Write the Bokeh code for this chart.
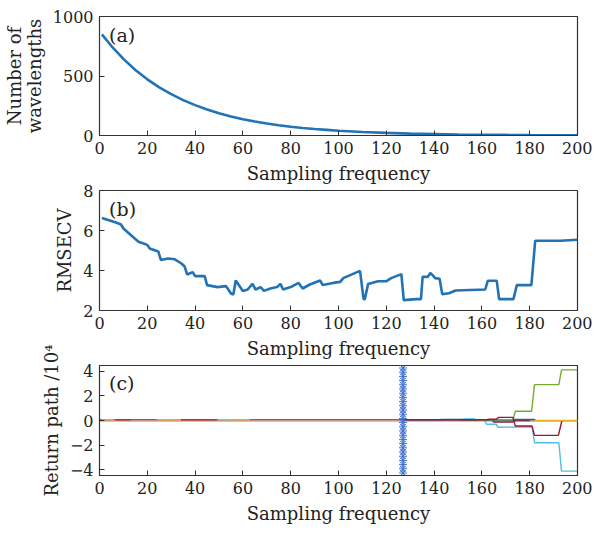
from bokeh.plotting import figure
from bokeh.layouts import column
from bokeh.models import FixedTicker, Label
from bokeh.embed import file_html
from bokeh.resources import INLINE

FONT = "DejaVu Serif"
INK = "#333333"
BLUE = "#2372B4"

x_ticks = [0, 20, 40, 60, 80, 100, 120, 140, 160, 180, 200]

# (a) number of retained wavelengths
freq_a = [1, 5, 10, 15, 20, 25, 30, 35, 40, 45, 50, 55, 60, 65, 70, 75, 80, 85, 90,
          95, 100, 110, 120, 130, 140, 150, 160, 170, 180, 190, 200]
n_wave = [850, 752, 644, 551, 472, 404, 347, 297, 255, 218, 187, 160, 137, 118, 101,
          86, 74, 63, 54, 47, 40, 29, 22, 16, 12, 8, 6, 5, 3, 2, 2]

# (b) RMSECV
freq_b = [1, 6.6, 9, 10, 16.3, 20, 21, 24.6, 25.7, 28.7, 31.5, 34.3, 35.6, 36.7, 39, 40,
          44, 45, 49.4, 52.9, 55, 56, 57, 60, 62, 64, 65.3, 67.4, 68.8, 71.5, 74.3, 75.7,
          76.8, 80, 83.3, 85, 88, 92.3, 93.4, 97.8, 100.7, 102, 109, 110.5, 111, 112.4,
          116.5, 120, 122, 125.5, 126.3, 127.3, 132.5, 134.5, 135.2, 137.3, 138.4, 139.3,
          140.4, 142.3, 143.4, 146.2, 149, 161.4, 162.5, 166.2, 167.2, 173.2, 174.6, 180.7,
          182.3, 193, 200]
rmsecv = [6.62, 6.41, 6.3, 6.1, 5.44, 5.28, 5.1, 4.95, 4.52, 4.6, 4.56, 4.35, 4.2, 3.8,
          3.92, 3.72, 3.72, 3.27, 3.17, 3.22, 2.85, 2.8, 3.5, 2.98, 3.05, 3.33, 3.05, 3.17,
          2.98, 3.1, 3.17, 3.33, 3.05, 3.17, 3.38, 3.1, 3.3, 3.5, 3.27, 3.38, 3.43, 3.62,
          3.98, 2.57, 2.57, 3.33, 3.46, 3.46, 3.62, 3.78, 3.82, 2.52, 2.57, 2.57, 3.68,
          3.68, 3.87, 3.78, 3.62, 3.59, 2.82, 2.86, 3.0, 3.05, 3.49, 3.49, 2.57, 2.57,
          3.27, 3.27, 5.49, 5.49, 5.54]

# (c) regression coefficient paths (x 10^4)
path_yellow_x = [0, 200]
path_yellow_y = [-0.05, -0.05]
path_purple_x = [0, 182]
path_purple_y = [0.06, 0.06]
path_red_x = [127, 162, 163, 166, 167, 173, 174, 181, 182, 192, 193.5]
path_red_y = [0.06, 0.06, 0.1, 0.1, 0.25, 0.25, -0.45, -0.45, -1.2, -1.2, 0]
path_red2_x = [150, 164, 165, 173, 174, 180]
path_red2_y = [0.06, 0.06, -0.12, -0.12, 0, 0]
path_blue_x = [127, 142.6, 143, 153, 154, 173, 173.6, 182, 182.5]
path_blue_y = [0.06, 0.06, 0.08, 0.08, 0.04, 0.04, 0.08, 0.08, 0]
path_cyan_x = [152, 152.5, 157, 157.5, 161, 162, 166, 166.7, 181, 182, 192.2, 193.3, 200]
path_cyan_y = [0.06, 0.12, 0.12, 0.06, 0.06, -0.3, -0.3, -0.55, -0.5, -1.8, -1.8, -4.1, -4.1]
path_green_x = [150, 173, 174, 180.8, 182, 192.2, 193.3, 200]
path_green_y = [0.06, 0.06, 0.75, 0.75, 2.9, 2.9, 4.1, 4.1]
seg_red_x = [[7, 13], [34, 49]]
seg_yellow_x = [[1, 6], [24, 34], [56, 63]]
seg_green_x = [[49.5, 56]]
best_freq = 127
star_y = [-4.25, -3.91, -3.57, -3.23, -2.89, -2.55, -2.21, -1.87, -1.53, -1.19, -0.85,
          -0.51, -0.17, 0.17, 0.51, 0.85, 1.19, 1.53, 1.87, 2.21, 2.55, 2.89, 3.23, 3.57,
          3.91, 4.25]


def make_fig(height, yrange, yticks, ylabel, top, bottom, overrides=None, margin=None):
    kw = {}
    if margin is not None:
        kw["margin"] = margin
    p = figure(width=592, height=height, x_range=(0, 200), y_range=yrange,
               output_backend="svg", toolbar_location=None,
               min_border_left=92, min_border_right=15,
               min_border_top=top, min_border_bottom=bottom, **kw)
    p.grid.visible = False
    p.outline_line_color = INK
    p.outline_line_width = 1.2
    p.outline_line_alpha = 1.0
    p.background_fill_color = "white"
    p.border_fill_color = None
    p.xaxis.ticker = FixedTicker(ticks=x_ticks)
    p.yaxis.ticker = FixedTicker(ticks=yticks)
    if overrides:
        p.yaxis.major_label_overrides = overrides
    for ax in (p.xaxis[0], p.yaxis[0]):
        ax.major_tick_in = 5
        ax.major_tick_out = 0
        ax.minor_tick_line_color = None
        ax.major_tick_line_color = INK
        ax.axis_line_color = INK
        ax.major_label_text_font = FONT
        ax.major_label_text_font_size = "16px"
        ax.major_label_text_color = "#222222"
        ax.major_label_text_line_height = 1.0
        ax.axis_label_text_font = FONT
        ax.axis_label_text_font_size = "18px"
        ax.axis_label_text_font_style = "normal"
        ax.axis_label_text_color = "#222222"
    p.xaxis.axis_label_text_line_height = 0.85
    p.yaxis.axis_label_text_line_height = 0.95
    p.xaxis.axis_label = "Sampling frequency"
    p.yaxis.axis_label = ylabel
    p.xaxis.major_label_standoff = 6
    p.xaxis.axis_label_standoff = 6
    p.yaxis.major_label_standoff = 6
    p.yaxis.axis_label_standoff = 5
    return p


def panel_label(p, text, y):
    p.add_layout(Label(x=4, y=y, text=text, text_font=FONT, text_font_size="19px",
                       text_baseline="top", text_color="#222222"))


pa = make_fig(186, (0, 1000), [0, 500, 1000], "Number of\nwavelengths", 16, 44)
pa.line(freq_a, n_wave, line_color=BLUE, line_width=2.6)
panel_label(pa, "(a)", 935)

pb = make_fig(186, (2, 8), [2, 4, 6, 8], "RMSECV", 15, 44, margin=(-11, 0, 0, 0))
pb.line(freq_b, rmsecv, line_color=BLUE, line_width=2.6)
panel_label(pb, "(b)", 7.62)

pc = make_fig(188, (-4.45, 4.45), [-4, -2, 0, 2, 4], "Return path /10\u2074", 27, 42,
              overrides={-4: "\u22124", -2: "\u22122"}, margin=(-23, 0, 0, 0))
lw = 1.4
pc.line(path_yellow_x, path_yellow_y, line_color="#EDB120", line_width=lw)
pc.line(path_purple_x, path_purple_y, line_color="#9A4F86", line_width=lw)
for s in seg_red_x:
    pc.line(s, [0.06, 0.06], line_color="#B5352B", line_width=lw)
for s in seg_yellow_x:
    pc.line(s, [0.06, 0.06], line_color="#E8A838", line_width=lw)
for s in seg_green_x:
    pc.line(s, [0.06, 0.06], line_color="#9CC08A", line_width=lw)
pc.line(path_red2_x, path_red2_y, line_color="#A2142F", line_width=lw)
pc.line(path_blue_x, path_blue_y, line_color="#0072BD", line_width=lw)
pc.line(path_cyan_x, path_cyan_y, line_color="#4DBEEE", line_width=lw)
pc.line(path_green_x, path_green_y, line_color="#77AC30", line_width=lw)
pc.line(path_red_x, path_red_y, line_color="#A2142F", line_width=lw)
pc.line([182, 200], [0, 0], line_color="#EDB120", line_width=lw)
pc.scatter([best_freq] * len(star_y), star_y, marker="asterisk", size=8,
           line_color="#3F6FD0", line_width=1.0)
panel_label(pc, "(c)", 3.9)

layout = column(pa, pb, pc, spacing=0)
open("out.html", "w").write(file_html(layout, INLINE))
